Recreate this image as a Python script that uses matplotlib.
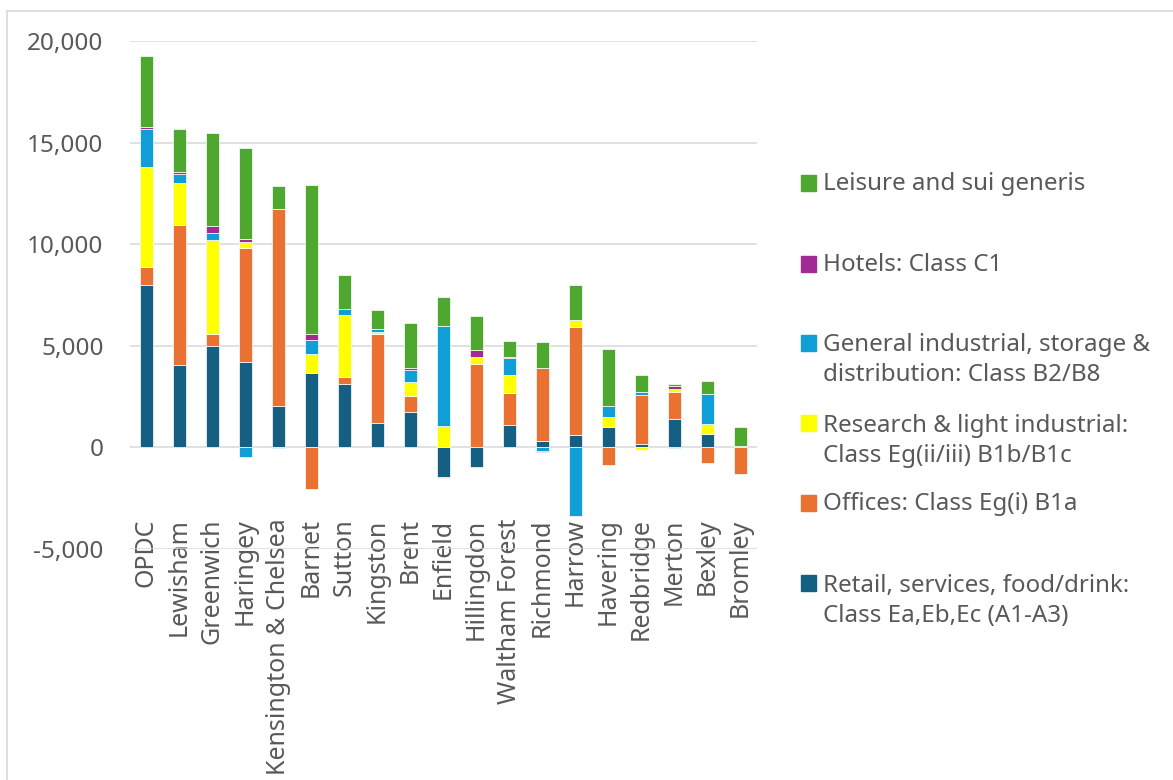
"""Stacked bars of net floorspace change by use class, per borough."""
import numpy as np
import matplotlib.pyplot as plt
from matplotlib.patches import Rectangle
from matplotlib.lines import Line2D
from matplotlib.ticker import FuncFormatter

plt.rcParams["font.family"] = ["Noto Sans", "DejaVu Sans"]

TEXT = "#595959"
GRID = "#D9D9D9"

BOROUGHS = [
    "OPDC", "Lewisham", "Greenwich", "Haringey", "Kensington & Chelsea",
    "Barnet", "Sutton", "Kingston", "Brent", "Enfield", "Hillingdon",
    "Waltham Forest", "Richmond", "Harrow", "Havering", "Redbridge",
    "Merton", "Bexley", "Bromley",
]

# values (m2), signed
RETAIL = [7980, 4050, 4970, 4210, 2030, 3660, 3110, 1200, 1740, -1470,
          -950, 1110, 310, 590, 1000, 160, 1380, 660, 0]
OFFICES = [890, 6900, 620, 5590, 9720, -2060, 330, 4380, 800, -40,
           4080, 1560, 3610, 5330, -890, 2430, 1330, -770, -1310]
RESEARCH = [4920, 2070, 4620, 300, 0, 930, 3100, 80, 670, 1030,
            380, 900, 0, 330, 490, -110, 180, 490, 0]
INDUSTRIAL = [1860, 440, 340, -480, -40, 710, 260, 180, 620, 4930,
              0, 840, -170, -3390, 540, 120, -40, 1480, 80]
HOTELS = [110, 80, 360, 150, 0, 280, 0, 0, 100, 0,
          310, 50, -40, 0, 30, 0, 120, 0, 0]
LEISURE = [3480, 2130, 4570, 4490, 1130, 7330, 1670, 920, 2210, 1430,
           1720, 800, 1260, 1750, 2770, 870, 100, 660, 940]

LABELS = [
    "Retail, services, food/drink:\nClass Ea,Eb,Ec (A1-A3)",
    "Offices: Class Eg(i) B1a",
    "Research & light industrial:\nClass Eg(ii/iii) B1b/B1c",
    "General industrial, storage &\ndistribution: Class B2/B8",
    "Hotels: Class C1",
    "Leisure and sui generis",
]
COLORS = ["#156082", "#E97132", "#FFFF00", "#0F9ED5", "#A02B93", "#4EA72E"]
SERIES = [RETAIL, OFFICES, RESEARCH, INDUSTRIAL, HOTELS, LEISURE]

W, H = 1173, 780
fig = plt.figure(figsize=(W / 100, H / 100), dpi=100)
ax = fig.add_axes([130 / W, 1 - 549 / H, (757 - 130) / W, (549 - 41) / H])

x = np.arange(len(BOROUGHS))
pos = np.zeros(len(x))
neg = np.zeros(len(x))
for vals, color in zip(SERIES, COLORS):
    v = np.array(vals, dtype=float)
    bottom = np.where(v >= 0, pos, neg)
    ax.bar(x, v, width=0.4, bottom=bottom, color=color,
           edgecolor="white", linewidth=0.5, zorder=3)
    pos += np.clip(v, 0, None)
    neg += np.clip(v, None, 0)

ax.set_xlim(-0.5, len(x) - 0.5)
ax.set_ylim(-5000, 20000)
ax.set_yticks(range(-5000, 20001, 5000))
ax.yaxis.set_major_formatter(FuncFormatter(lambda v, _: f"{v:,.0f}"))
ax.grid(axis="y", color=GRID, linewidth=1.1, zorder=0)
ax.set_axisbelow(True)
for s in ax.spines.values():
    s.set_visible(False)

ax.set_xticks(x)
ax.set_xticklabels(BOROUGHS, rotation=90, fontsize=18, color=TEXT)
ax.tick_params(axis="x", length=0, pad=-22)
ax.tick_params(axis="y", length=0, pad=19, labelsize=17.5, labelcolor=TEXT)

# legend, laid out like the original (top entry = last series)
legend_y = [601, 504, 441, 360, 265, 184]
first_line_y = [583, 503, 423, 343, 264, 183]
for lab, color, ty, sy in zip(LABELS, COLORS, legend_y, first_line_y):
    fig.add_artist(Rectangle((801 / W, 1 - (sy + 8) / H), 15 / W, 16 / H,
                             transform=fig.transFigure, color=color))
    fig.text(823 / W, 1 - ty / H, lab, fontsize=17.4, color=TEXT,
             va="center", ha="left", linespacing=1.33)

# chart frame (only top and left edges visible in the crop)
fig.add_artist(Line2D([7 / W, 1], [1 - 11 / H] * 2, color=GRID, lw=1.2,
                      transform=fig.transFigure))
fig.add_artist(Line2D([7 / W] * 2, [0, 1 - 11 / H], color=GRID, lw=1.2,
                      transform=fig.transFigure))

fig.savefig("out.png", dpi=100, facecolor="white")
